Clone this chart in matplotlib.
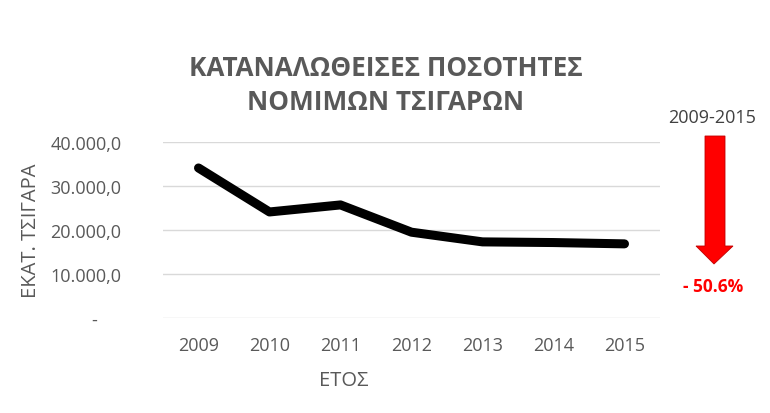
import matplotlib.pyplot as plt
from matplotlib.patches import Polygon

plt.rcParams['font.family'] = ['Open Sans', 'DejaVu Sans']

# data
years = ['2009', '2010', '2011', '2012', '2013', '2014', '2015']
cigarettes = [34100, 24100, 25700, 19500, 17300, 17150, 16850]
yticks = [0, 10000, 20000, 30000, 40000]
ytick_labels = ['-     ', '10.000,0', '20.000,0', '30.000,0', '40.000,0']
change_label = '- 50.6%'
period_label = '2009-2015'

grey = '#595959'

fig = plt.figure(figsize=(7.7, 4.14), dpi=100)
ax = fig.add_axes([163 / 770, 95 / 414, 497 / 770, 176 / 414])

ax.plot(range(len(years)), cigarettes, color='black', lw=6.5,
        solid_capstyle='round', solid_joinstyle='round', zorder=3)

ax.set_xlim(-0.5, len(years) - 0.5)
ax.set_ylim(0, 40000)
ax.set_yticks(yticks)
ax.set_yticklabels(ytick_labels)
ax.set_xticks(range(len(years)))
ax.set_xticklabels(years)
ax.grid(axis='y', color='#d9d9d9', lw=1)
ax.set_axisbelow(True)
for s in ax.spines.values():
    s.set_visible(False)
ax.tick_params(length=0, labelsize=13, labelcolor=grey)
ax.tick_params(axis='y', pad=30)
ax.tick_params(axis='x', pad=13)

fig.text(31 / 770, 1 - 231 / 414, 'ΕΚΑΤ. ΤΣΙΓΑΡΑ', rotation=90, ha='center',
         va='center', fontsize=14.5, color=grey)
fig.text(344 / 770, 1 - 381 / 414, 'ΕΤΟΣ', ha='center', va='center',
         fontsize=14.5, color=grey)

fig.text(386 / 770, 1 - 68 / 414, 'ΚΑΤΑΝΑΛΩΘΕΙΣΕΣ ΠΟΣΟΤΗΤΕΣ', ha='center',
         va='center', fontsize=18.8, fontweight='bold', color=grey)
fig.text(386 / 770, 1 - 103 / 414, 'ΝΟΜΙΜΩΝ ΤΣΙΓΑΡΩΝ', ha='center',
         va='center', fontsize=18.8, fontweight='bold', color=grey)

# red arrow on the right
pts = [(705, 137), (725, 137), (725, 247), (733, 247), (714, 265),
       (696, 247), (705, 247)]
arrow = Polygon([(x / 100, (414 - y) / 100) for x, y in pts], closed=True,
                facecolor='#ff0000', edgecolor='#c00000', lw=0.6,
                transform=fig.dpi_scale_trans)
fig.add_artist(arrow)
fig.text(712 / 770, 1 - 118 / 414, period_label, ha='center', va='center',
         fontsize=13, color='#404040')
fig.text(713 / 770, 1 - 287 / 414, change_label, ha='center', va='center',
         fontsize=12.5, fontweight='bold', color='#ff0000')

fig.savefig('out.png', dpi=100)
